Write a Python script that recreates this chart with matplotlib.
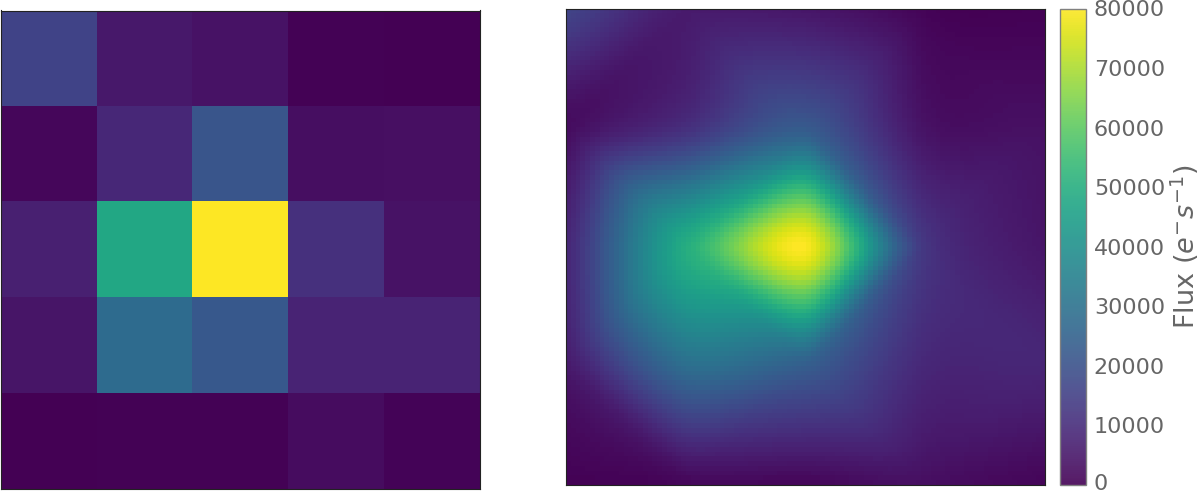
import numpy as np
import matplotlib
matplotlib.use('Agg')
import matplotlib.pyplot as plt
import matplotlib.tri as mtri
from matplotlib.transforms import ScaledTranslation

# flux per pixel, e-/s
row0 = [16000, 5000, 4000, 500, 200]
row1 = [1500, 9000, 21000, 3000, 3200]
row2 = [7000, 48000, 80000, 11000, 4000]
row3 = [4500, 28000, 22000, 8000, 8000]
row4 = [200, 600, 400, 2500, 800]
flux = np.array([row0, row1, row2, row3, row4])

cbar_ticks = [0, 10000, 20000, 30000, 40000, 50000, 60000, 70000, 80000]
grey = '#666666'

W, H = 1200, 493
fig = plt.figure(figsize=(W / 100, H / 100), dpi=100, facecolor='w')


def box(x0, y0, x1, y1):
    return [x0 / W, 1 - y1 / H, (x1 - x0) / W, (y1 - y0) / H]


def soften(a, sigma):
    # small gaussian blur to take the creases out of the triangulated surface
    n = int(3 * sigma)
    k = np.exp(-0.5 * (np.arange(-n, n + 1) / sigma) ** 2)
    k = k / k.sum()
    b = np.pad(a, n, mode='edge')
    b = np.apply_along_axis(np.convolve, 0, b, k, mode='same')
    b = np.apply_along_axis(np.convolve, 1, b, k, mode='same')
    return b[n:-n, n:-n]


ax1 = fig.add_axes(box(0.5, 10.5, 479.5, 489))
ax1.imshow(flux, cmap='viridis', vmin=0, vmax=80000, interpolation='nearest', aspect='auto')

# smooth version through the pixel centres, resampled on a 100x100 grid
px, py = np.meshgrid(np.arange(5.0), np.arange(5.0))
tri = mtri.Triangulation(px.ravel(), py.ravel())
linear = mtri.LinearTriInterpolator(tri, flux.ravel())
cubic = mtri.CubicTriInterpolator(tri, flux.ravel(), kind='geom')
gx, gy = np.meshgrid(np.linspace(0, 4, 100), np.linspace(0, 4, 100))
smooth = 0.5 * np.ma.filled(linear(gx, gy), 0) + 0.5 * np.ma.filled(cubic(gx, gy), 0)
smooth = 0.3 * smooth + 0.7 * soften(smooth, 3.5)
smooth = smooth * flux.max() / smooth.max()

ax2 = fig.add_axes(box(565.5, 8.5, 1045, 485))
im = ax2.imshow(smooth, cmap='viridis', vmin=0, vmax=80000, interpolation='nearest',
                aspect='auto', extent=(0, 4, 4, 0))

for ax in (ax1, ax2):
    ax.set_xticks([])
    ax.set_yticks([])
    for s in ax.spines.values():
        s.set_linewidth(0.8)
        s.set_color('#222222')

cax = fig.add_axes(box(1060, 8.5, 1085.5, 485))
cb = fig.colorbar(im, cax=cax, ticks=cbar_ticks)
cb.solids.set_alpha(0.9)
cb.outline.set_edgecolor('#808080')
cb.outline.set_linewidth(1.0)
cb.ax.tick_params(length=0, pad=6, labelsize=16, labelcolor=grey)
cb.set_label(r'Flux ($e^{-}s^{-1}$)', fontsize=19.5, color=grey, labelpad=2.5)

# the 0 label would touch the bottom edge of the figure
lab0 = cb.ax.get_yticklabels()[0]
lab0.set_transform(lab0.get_transform() + ScaledTranslation(0, 2 / 72, fig.dpi_scale_trans))

fig.savefig('out.png', dpi=100)
